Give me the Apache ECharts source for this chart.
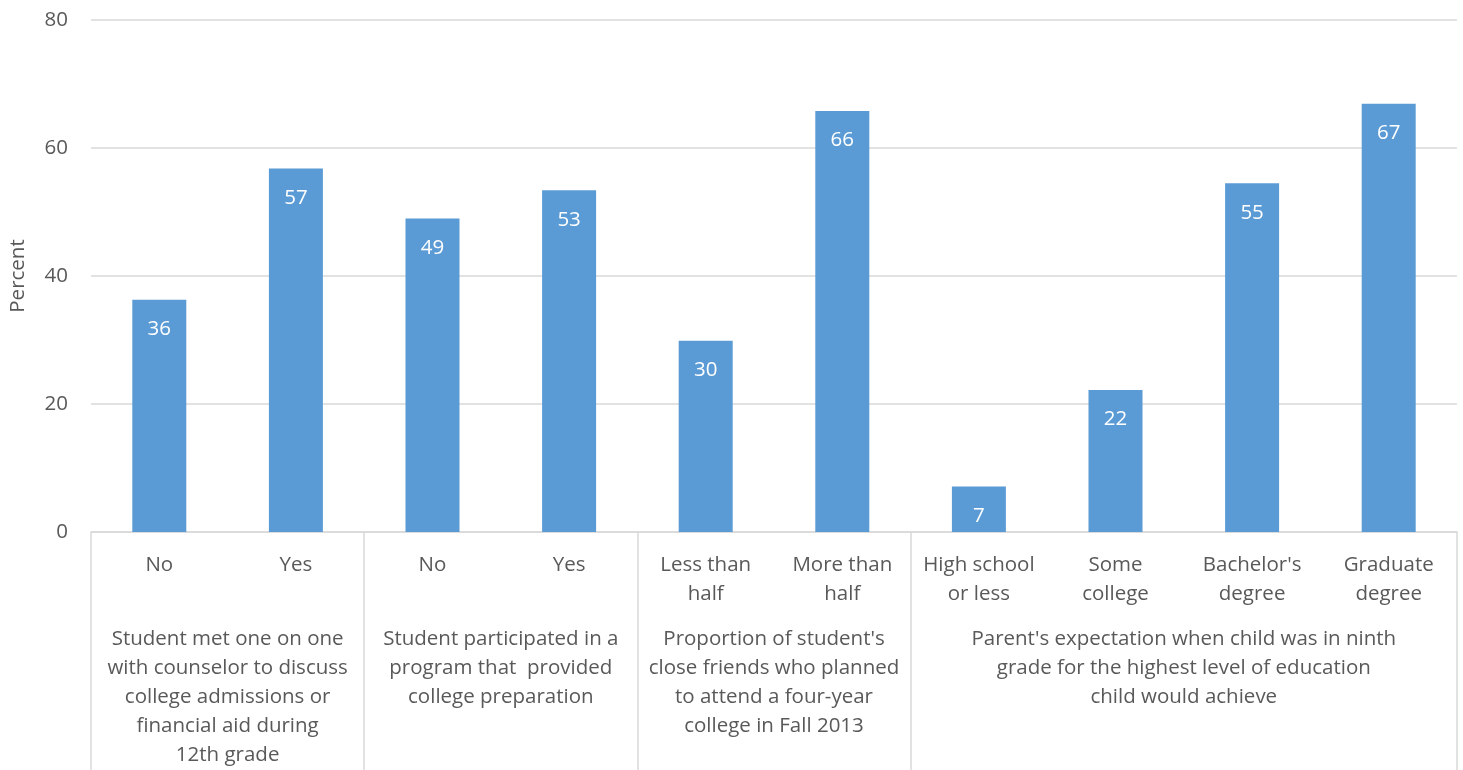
<!DOCTYPE html>
<html>
<head>
<meta charset="utf-8">
<script src="https://cdn.jsdelivr.net/npm/echarts@6/dist/echarts.min.js"></script>
<style>html,body{margin:0;padding:0;background:#fff}#c{width:1463px;height:770px}</style>
</head>
<body>
<div id="c"></div>
<script>
const categories = ["No", "Yes", "No", "Yes", "Less than\nhalf", "More than\nhalf", "High school\nor less", "Some\ncollege", "Bachelor's\ndegree", "Graduate\ndegree"];
const values = [36.3, 56.8, 49.0, 53.4, 29.9, 65.8, 7.1, 22.2, 54.5, 66.9];
const labels = [36, 57, 49, 53, 30, 66, 7, 22, 55, 67];
const groupNames = [
  "Student met one on one\nwith counselor to discuss\ncollege admissions or\nfinancial aid during\n12th grade",
  "Student participated in a\nprogram that  provided\ncollege preparation",
  "Proportion of student's\nclose friends who planned\nto attend a four-year\ncollege in Fall 2013",
  "Parent's expectation when child was in ninth\ngrade for the highest level of education\nchild would achieve"
];
const groupSizes = [2, 2, 2, 4];
const yTicks = [0, 20, 40, 60, 80];

const bounds = [0];
groupSizes.forEach(s => bounds.push(bounds[bounds.length - 1] + s));
const centers = groupSizes.map((s, i) => bounds[i] + s / 2);

const font = '"Open Sans", sans-serif';
const fs = 20.5;
const txt = '#595959';
const grey = '#d9d9d9';

const chart = echarts.init(document.getElementById('c'));
chart.setOption({
  animation: false,
  grid: { left: 90, right: 6, top: 20, bottom: 234, containLabel: false },
  xAxis: [
    {
      type: 'category',
      data: categories,
      position: 'bottom',
      axisLine: { show: true, lineStyle: { color: grey, width: 1.5 } },
      axisTick: { show: false },
      axisLabel: { color: txt, fontFamily: font, fontSize: fs, lineHeight: 29, margin: 19, interval: 0 }
    },
    {
      type: 'value',
      min: 0, max: bounds[bounds.length - 1],
      position: 'bottom',
      axisLine: { show: false },
      splitLine: { show: false },
      axisTick: { show: true, customValues: bounds, length: 240, lineStyle: { color: grey, width: 1.5 } },
      axisLabel: {
        customValues: centers,
        formatter: v => { const i = centers.indexOf(v); return i >= 0 ? groupNames[i] : ''; },
        color: txt, fontFamily: font, fontSize: fs, lineHeight: 29, margin: 93, align: 'center', verticalAlign: 'top'
      }
    }
  ],
  yAxis: {
    type: 'value', min: yTicks[0], max: yTicks[yTicks.length - 1], interval: 20,
    name: 'Percent', nameLocation: 'middle', nameGap: 62,
    nameTextStyle: { color: txt, fontFamily: font, fontSize: fs },
    axisLine: { show: false }, axisTick: { show: false },
    axisLabel: { color: txt, fontFamily: font, fontSize: fs, margin: 23 },
    splitLine: { lineStyle: { color: grey, width: 1.5 } }
  },
  series: [{
    type: 'bar',
    data: values,
    barWidth: 54,
    itemStyle: { color: '#5b9bd5' },
    label: {
      show: true, position: 'insideTop', distance: 19,
      color: '#ffffff', fontFamily: font, fontSize: fs,
      formatter: p => String(labels[p.dataIndex])
    }
  }]
});
</script>
</body>
</html>
